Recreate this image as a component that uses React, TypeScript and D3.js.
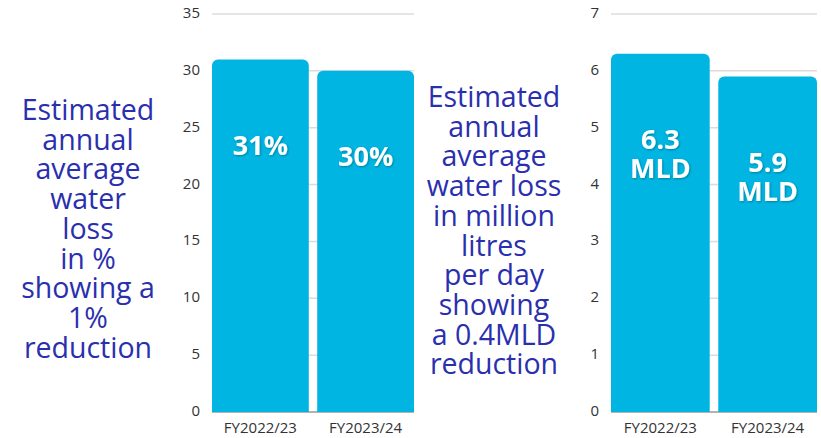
import * as d3 from 'd3';

const categories = ['FY2022/23', 'FY2023/24'];
const lossPercent = [31, 30];
const lossPercentLabels = [['31%'], ['30%']];
const lossMld = [6.3, 5.9];
const lossMldLabels = [['6.3', 'MLD'], ['5.9', 'MLD']];
const percentTicks = [0, 5, 10, 15, 20, 25, 30, 35];
const mldTicks = [0, 1, 2, 3, 4, 5, 6, 7];
const leftCaption = ['Estimated', 'annual', 'average', 'water', 'loss', 'in %', 'showing a', '1%', 'reduction'];
const midCaption = ['Estimated', 'annual', 'average', 'water loss', 'in million', 'litres', 'per day', 'showing', 'a 0.4MLD', 'reduction'];

const FONT = '"Open Sans", "Noto Sans", sans-serif';
const BAR = '#00b5e2';
const CAPTION = '#2a2fae';

function topRounded(x: number, y: number, w: number, h: number, r: number) {
  const p = d3.path();
  p.moveTo(x, y + h);
  p.lineTo(x, y + r);
  p.arcTo(x, y, x + r, y, r);
  p.lineTo(x + w - r, y);
  p.arcTo(x + w, y, x + w, y + r, r);
  p.lineTo(x + w, y + h);
  p.closePath();
  return p.toString();
}

interface PanelProps {
  x0: number;
  x1: number;
  values: number[];
  labels: string[][];
  ticks: number[];
  max: number;
}

function Panel({ x0, x1, values, labels, ticks, max }: PanelProps) {
  const y = d3.scaleLinear().domain([0, max]).range([412, 14]);
  const x = d3.scaleBand<string>().domain(categories).range([x0, x1]).paddingInner(0.08).paddingOuter(0);
  return (
    <g>
      {ticks.map((t) => (
        <g key={t}>
          <line
            x1={x0}
            x2={x1}
            y1={y(t)}
            y2={y(t)}
            stroke={t === 0 ? '#9a9a9a' : '#dcdcdc'}
            strokeWidth={1.5}
          />
          <text
            x={x0 - 12}
            y={y(t)}
            textAnchor="end"
            dominantBaseline="middle"
            fontSize={15}
            fill="#333"
          >
            {t}
          </text>
        </g>
      ))}
      {values.map((v, i) => {
        const c = categories[i];
        const bx = x(c)!;
        const bw = x.bandwidth();
        const cx = bx + bw / 2;
        const ly = y(v) + 88;
        return (
          <g key={c}>
            <path d={topRounded(bx, y(v), bw, y(0) - y(v), 6)} fill={BAR} />
            {labels[i].map((l, j) => (
              <text
                key={j}
                x={cx}
                y={ly + j * 29}
                textAnchor="middle"
                dominantBaseline="middle"
                fontSize={27}
                fontWeight={700}
                fill="#fff"
                filter="url(#shadow)"
              >
                {l}
              </text>
            ))}
            <text x={cx} y={433} textAnchor="middle" fontSize={15} fill="#333">
              {c}
            </text>
          </g>
        );
      })}
    </g>
  );
}

function Caption({ cx, top, lines }: { cx: number; top: number; lines: string[] }) {
  return (
    <g>
      {lines.map((l, i) => (
        <text key={i} x={cx} y={top + i * 29.7} textAnchor="middle" fontSize={28.5} fill={CAPTION}>
          {l}
        </text>
      ))}
    </g>
  );
}

export default function App() {
  return (
    <svg
      width={821}
      height={438}
      style={{ position: 'absolute', left: 0, top: 0, fontFamily: FONT, background: '#fff' }}
    >
      <defs>
        <filter id="shadow" x="-20%" y="-20%" width="140%" height="140%">
          <feDropShadow dx={1} dy={1} stdDeviation={1} floodColor="#000" floodOpacity={0.3} />
        </filter>
      </defs>
      <Caption cx={88} top={120} lines={leftCaption} />
      <Panel x0={212} x1={414} values={lossPercent} labels={lossPercentLabels} ticks={percentTicks} max={35} />
      <Caption cx={494} top={107} lines={midCaption} />
      <Panel x0={611} x1={817} values={lossMld} labels={lossMldLabels} ticks={mldTicks} max={7} />
    </svg>
  );
}
